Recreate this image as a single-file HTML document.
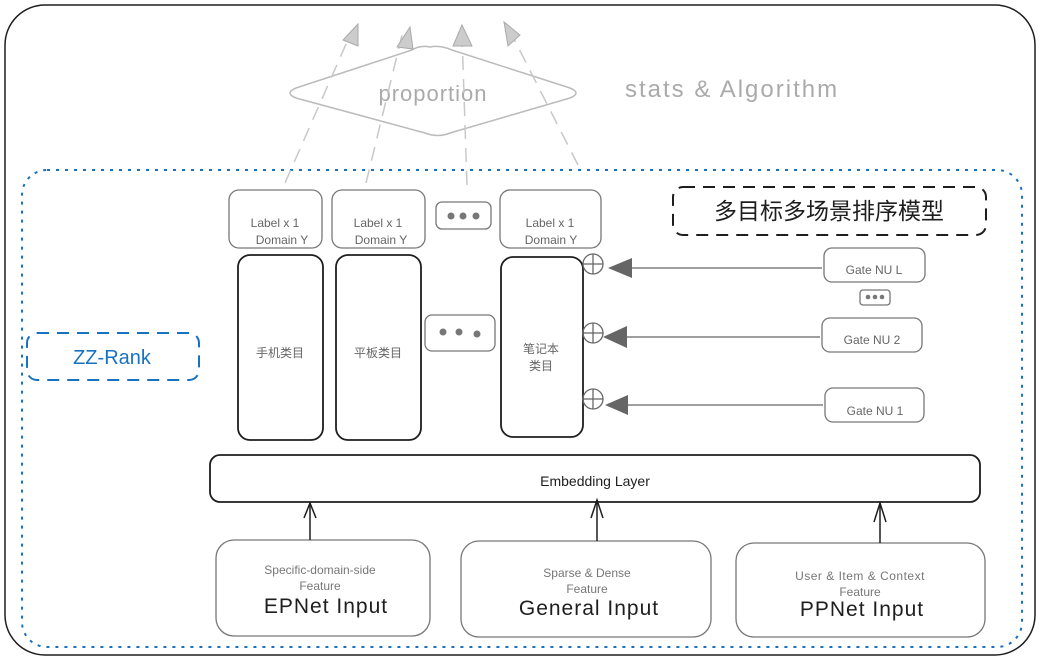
<!DOCTYPE html>
<html><head><meta charset="utf-8"><style>
html,body{margin:0;padding:0;background:#fff;}
svg{display:block;}
text{font-family:"Liberation Sans","Noto Sans CJK SC",sans-serif;}
</style></head><body>
<svg width="1040" height="661" viewBox="0 0 1040 661" xmlns="http://www.w3.org/2000/svg">
<rect x="5" y="5" width="1030" height="650" rx="40" fill="none" stroke="#1e1e1e" stroke-width="1.5"/>
<rect x="22" y="170" width="1000" height="477" rx="25" fill="none" stroke="#1971c2" stroke-width="2" stroke-dasharray="3 6"/>
<path d="M430 47 Q440 45 452 50 L570 88 Q582 93 570 98 L450 133 Q438 138 425 133 L296 98 Q284 93 296 88 L412 50 Q420 45 430 47 Z" fill="none" stroke="#bbb" stroke-width="1.5"/>
<text x="433" y="101" font-size="22" fill="#aaa" text-anchor="middle" letter-spacing="1">proportion</text>
<text x="625" y="97" font-size="24" fill="#aaa" letter-spacing="2">stats &amp; Algorithm</text>
<g stroke="#c8c8c8" stroke-width="1.5" stroke-dasharray="14 9" fill="none">
<line x1="285" y1="183" x2="350" y2="35"/>
<line x1="366" y1="183" x2="402" y2="35"/>
<line x1="467" y1="185" x2="462" y2="35"/>
<line x1="578" y1="165" x2="512" y2="35"/>
</g>
<g fill="#ccc" stroke="#aaa" stroke-width="1">
<polygon points="358,24 343,40 358,46"/>
<polygon points="410,27 397,47 413,49"/>
<polygon points="462,25 453,46 472,46"/>
<polygon points="504,22 508,46 520,35"/>
</g>
<g fill="none" stroke="#777" stroke-width="1.3">
<rect x="229" y="190" width="93" height="58" rx="10"/>
<rect x="332" y="190" width="93" height="58" rx="10"/>
<rect x="500" y="190" width="101" height="58" rx="10"/>
<rect x="436" y="202" width="55" height="27" rx="6"/>
<rect x="425" y="315" width="70" height="36" rx="7"/>
<rect x="860" y="290" width="30" height="15" rx="3"/>
<rect x="824" y="248" width="101" height="34" rx="8"/>
<rect x="822" y="318" width="100" height="34" rx="8"/>
<rect x="825" y="388" width="99" height="34" rx="8"/>
<rect x="216" y="540" width="214" height="96" rx="18"/>
<rect x="461" y="541" width="250" height="96" rx="18"/>
<rect x="736" y="543" width="249" height="94" rx="18"/>
</g>
<g font-size="12" fill="#666" text-anchor="middle">
<text x="275" y="227">Label x 1</text><text x="282" y="244">Domain Y</text>
<text x="378" y="227">Label x 1</text><text x="381" y="244">Domain Y</text>
<text x="550" y="227">Label x 1</text><text x="551" y="244">Domain Y</text>
<text x="874" y="274">Gate NU L</text>
<text x="872" y="344">Gate NU 2</text>
<text x="875" y="415">Gate NU 1</text>
</g>
<g fill="#777">
<circle cx="451" cy="216" r="3.5"/><circle cx="463" cy="216" r="3.5"/><circle cx="476" cy="216" r="3.5"/>
<circle cx="443" cy="332" r="3.5"/><circle cx="459" cy="332" r="3.5"/><circle cx="477" cy="334" r="3.5"/>
<circle cx="868" cy="297" r="2.3"/><circle cx="875" cy="297" r="2.3"/><circle cx="882" cy="297" r="2.3"/>
</g>
<g fill="none" stroke="#1e1e1e" stroke-width="1.8">
<rect x="238" y="255" width="85" height="185" rx="12"/>
<rect x="336" y="255" width="85" height="185" rx="12"/>
<rect x="501" y="257" width="82" height="180" rx="12"/>
<rect x="210" y="455" width="770" height="47" rx="10"/>
</g>
<g font-size="12" fill="#666" text-anchor="middle">
<text x="280" y="357">手机类目</text>
<text x="378" y="357">平板类目</text>
<text x="541" y="353">笔记本</text><text x="541" y="370">类目</text>
</g>
<text x="595" y="486" font-size="14" fill="#1e1e1e" text-anchor="middle">Embedding Layer</text>
<rect x="673" y="187" width="313" height="48" rx="10" fill="none" stroke="#1e1e1e" stroke-width="2" stroke-dasharray="12 8"/>
<text x="829" y="219" font-size="23" fill="#1e1e1e" text-anchor="middle">多目标多场景排序模型</text>
<rect x="27" y="333" width="172" height="47" rx="10" fill="none" stroke="#1971c2" stroke-width="2" stroke-dasharray="12 8"/>
<text x="112" y="364" font-size="20" fill="#1971c2" text-anchor="middle">ZZ-Rank</text>
<g fill="none" stroke="#666" stroke-width="1.3">
<circle cx="593" cy="264" r="10"/><line x1="583" y1="264" x2="603" y2="264"/><line x1="593" y1="254" x2="593" y2="274"/>
<circle cx="593" cy="333" r="10"/><line x1="583" y1="333" x2="603" y2="333"/><line x1="593" y1="323" x2="593" y2="343"/>
<circle cx="593" cy="399" r="10"/><line x1="583" y1="399" x2="603" y2="399"/><line x1="593" y1="389" x2="593" y2="409"/>
<line x1="620" y1="268" x2="822" y2="268"/>
<line x1="620" y1="337" x2="820" y2="337"/>
<line x1="620" y1="405" x2="823" y2="405"/>
</g>
<g fill="#666">
<polygon points="608,268 632,258 632,278"/>
<polygon points="603,337 627,326 627,348"/>
<polygon points="605,405 628,395 628,415"/>
</g>
<g stroke="#1e1e1e" stroke-width="1.5" fill="none">
<line x1="310" y1="540" x2="310" y2="503"/><polyline points="304,518 310,503 316,518"/>
<line x1="597" y1="541" x2="597" y2="500"/><polyline points="591,518 597,500 603,518"/>
<line x1="880" y1="543" x2="880" y2="503"/><polyline points="874,522 880,503 886,522"/>
</g>
<g text-anchor="middle">
<text x="320" y="574" font-size="12" fill="#777">Specific-domain-side</text>
<text x="320" y="590" font-size="12" fill="#777">Feature</text>
<text x="326" y="613" font-size="21" fill="#1e1e1e" letter-spacing="1">EPNet Input</text>
<text x="587" y="577" font-size="12" fill="#777">Sparse &amp; Dense</text>
<text x="587" y="593" font-size="12" fill="#777">Feature</text>
<text x="589" y="615" font-size="21" fill="#1e1e1e" letter-spacing="1">General Input</text>
<text x="860" y="580" font-size="12" fill="#777" letter-spacing="0.5">User &amp; Item &amp; Context</text>
<text x="860" y="596" font-size="12" fill="#777">Feature</text>
<text x="862" y="616" font-size="21" fill="#1e1e1e" letter-spacing="1">PPNet Input</text>
</g>
</svg>
</body></html>
